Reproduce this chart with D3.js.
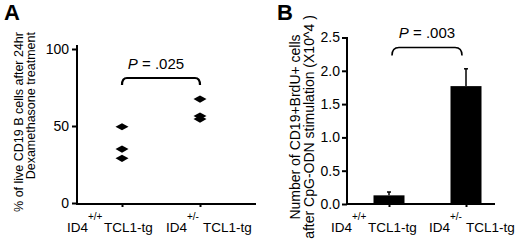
<!DOCTYPE html>
<html>
<head>
<meta charset="utf-8">
<script src="https://cdn.jsdelivr.net/npm/d3@7"></script>
<style>
  body { margin: 0; background: #fff; }
  svg { display: block; font-family: Arial, "Liberation Sans", Helvetica, sans-serif; }
</style>
</head>
<body>
<svg id="chart" width="520" height="242"></svg>
<script>
const W = 520, H = 242;

// panel A : dot plot
const groupsA = ["+/+", "+/-"];
const pointsA = [
  { g: "+/+", v: 49.5 }, { g: "+/+", v: 35 }, { g: "+/+", v: 29 },
  { g: "+/-", v: 67.5 }, { g: "+/-", v: 56.5 }, { g: "+/-", v: 54.5 },
];
const ticksA = [0, 50, 100];
const pA = "= .025";

// panel B : bar chart with SEM
const groupsB = ["+/+", "+/-"];
const meansB = [0.13, 1.77];
const errB = [0.05, 0.26];
const ticksB = [0, 0.5, 1.0, 1.5, 2.0, 2.5];
const pB = "= .003";

const svg = d3.select("#chart");

function xLabels(g, scale, y) {
  // "ID4" + superscript genotype + "TCL1-tg", left aligned at scale(d)
  const t = g.selectAll("text.xl")
    .data(scale.domain())
    .join("text")
    .attr("class", "xl")
    .attr("y", y)
    .attr("font-size", 13.5)
    .attr("fill", "#000");
  t.append("tspan").attr("x", (d) => scale(d)).text("ID4");
  t.append("tspan").attr("x", (d) => scale(d) + 21).attr("dy", -12).attr("font-size", 10).text((d) => d);
  t.append("tspan").attr("x", (d) => scale(d) + 37).attr("dy", 12).text("TCL1-tg");
}

function bracket(g, x1, x2, yTop, drop, r, w) {
  const p = d3.path();
  p.moveTo(x1, yTop + drop);
  p.quadraticCurveTo(x1, yTop, x1 + r, yTop);
  p.lineTo(x2 - r, yTop);
  p.quadraticCurveTo(x2, yTop, x2, yTop + drop);
  g.append("path")
    .attr("d", p.toString())
    .attr("fill", "none")
    .attr("stroke", "#000")
    .attr("stroke-width", w);
}

function pText(g, x, y, s) {
  const t = g.append("text")
    .attr("x", x).attr("y", y)
    .attr("text-anchor", "middle")
    .attr("font-size", 15)
    .attr("fill", "#000");
  t.append("tspan").attr("font-style", "italic").text("P");
  t.append("tspan").text(" " + s);
}

// ---------- Panel A ----------
const gA = svg.append("g");
const yA = d3.scaleLinear().domain([0, 100]).range([203, 49]);
const xA = d3.scalePoint().domain(groupsA).range([122, 200]);
const xAl = d3.scalePoint().domain(groupsA).range([67, 166]);

gA.append("text").attr("x", 4).attr("y", 20)
  .attr("font-size", 22).attr("font-weight", "bold").text("A");

gA.append("g")
  .attr("transform", "translate(77,0)")
  .call(d3.axisLeft(yA).tickValues(ticksA).tickSize(5).tickSizeOuter(0).tickPadding(3))
  .call((a) => a.selectAll("text").attr("font-size", 14).attr("fill", "#000").attr("font-family", null))
  .call((a) => a.select(".domain").attr("d", "M0,45V204"))
  .call((a) => a.selectAll("path,line").attr("stroke-width", 2));

gA.append("g")
  .attr("transform", "translate(0,204)")
  .call(d3.axisBottom(xA).tickSize(3).tickSizeOuter(0).tickFormat(""))
  .call((a) => a.select(".domain").attr("d", "M76,0H256"))
  .call((a) => a.selectAll("path,line").attr("stroke-width", 2));

xLabels(gA, xAl, 232);

const diamond = "M-6.5,0L0,-3.6L6.5,0L0,3.6Z";
gA.selectAll("path.pt")
  .data(pointsA)
  .join("path")
  .attr("class", "pt")
  .attr("d", diamond)
  .attr("transform", (d) => `translate(${xA(d.g)},${yA(d.v)})`)
  .attr("fill", "#000");

bracket(gA, xA(groupsA[0]), xA(groupsA[1]), 78, 7, 5, 2.2);
pText(gA, 156, 69, pA);

// y label A
const labA = gA.append("text")
  .attr("transform", "translate(0,32) rotate(-90)")
  .attr("text-anchor", "end")
  .attr("font-size", 12.5)
  .attr("fill", "#000");
labA.append("tspan").attr("x", 0).attr("y", 23).text("% of live CD19 B cells after 24hr");
labA.append("tspan").attr("x", 0).attr("y", 35).text("Dexamethasone treatment");

// ---------- Panel B ----------
const gB = svg.append("g");
const yB = d3.scaleLinear().domain([0, 2.5]).range([204, 37.5]);
const xB = d3.scalePoint().domain(groupsB).range([389, 466]);
const xBl = d3.scalePoint().domain(groupsB).range([331, 429]);
const barW = 31;

gB.append("text").attr("x", 277).attr("y", 20)
  .attr("font-size", 22).attr("font-weight", "bold").text("B");

gB.append("g")
  .attr("transform", "translate(347,0)")
  .call(d3.axisLeft(yB).tickValues(ticksB).tickFormat(d3.format(".1f")).tickSize(5).tickSizeOuter(0).tickPadding(2))
  .call((a) => a.selectAll("text").attr("font-size", 14).attr("fill", "#000").attr("font-family", null))
  .call((a) => a.select(".domain").attr("d", "M0,37V204"))
  .call((a) => a.selectAll("path,line").attr("stroke-width", 2));

const barsB = groupsB.map((g, i) => ({ g, m: meansB[i], e: errB[i] }));

gB.selectAll("rect.bar")
  .data(barsB)
  .join("rect")
  .attr("class", "bar")
  .attr("x", (d) => xB(d.g) - barW / 2)
  .attr("width", barW)
  .attr("y", (d) => yB(d.m))
  .attr("height", (d) => yB(0) - yB(d.m))
  .attr("fill", "#000");

gB.selectAll("line.err")
  .data(barsB)
  .join("line")
  .attr("class", "err")
  .attr("x1", (d) => xB(d.g)).attr("x2", (d) => xB(d.g))
  .attr("y1", (d) => yB(d.m)).attr("y2", (d) => yB(d.m + d.e))
  .attr("stroke", "#000").attr("stroke-width", 1.5);

gB.selectAll("line.cap")
  .data(barsB)
  .join("line")
  .attr("class", "cap")
  .attr("x1", (d) => xB(d.g) - 2).attr("x2", (d) => xB(d.g) + 2)
  .attr("y1", (d) => yB(d.m + d.e)).attr("y2", (d) => yB(d.m + d.e))
  .attr("stroke", "#000").attr("stroke-width", 1.5);

gB.append("g")
  .attr("transform", "translate(0,204)")
  .call(d3.axisBottom(xB).tickSize(3).tickSizeOuter(0).tickFormat(""))
  .call((a) => a.select(".domain").attr("d", "M346,0H495"))
  .call((a) => a.selectAll("path,line").attr("stroke-width", 2));

xLabels(gB, xBl, 232);

bracket(gB, 392, 462, 47.5, 8, 7, 1.6);
pText(gB, 427, 38, pB);

const labB = gB.append("text")
  .attr("transform", "translate(0,127) rotate(-90)")
  .attr("text-anchor", "middle")
  .attr("font-size", 14)
  .attr("fill", "#000");
labB.append("tspan").attr("x", 0).attr("y", 300).text("Number of CD19+BrdU+ cells");
labB.append("tspan").attr("x", 0).attr("y", 314).text("after CpG-ODN stimulation (X10^4 )");
</script>
</body>
</html>
